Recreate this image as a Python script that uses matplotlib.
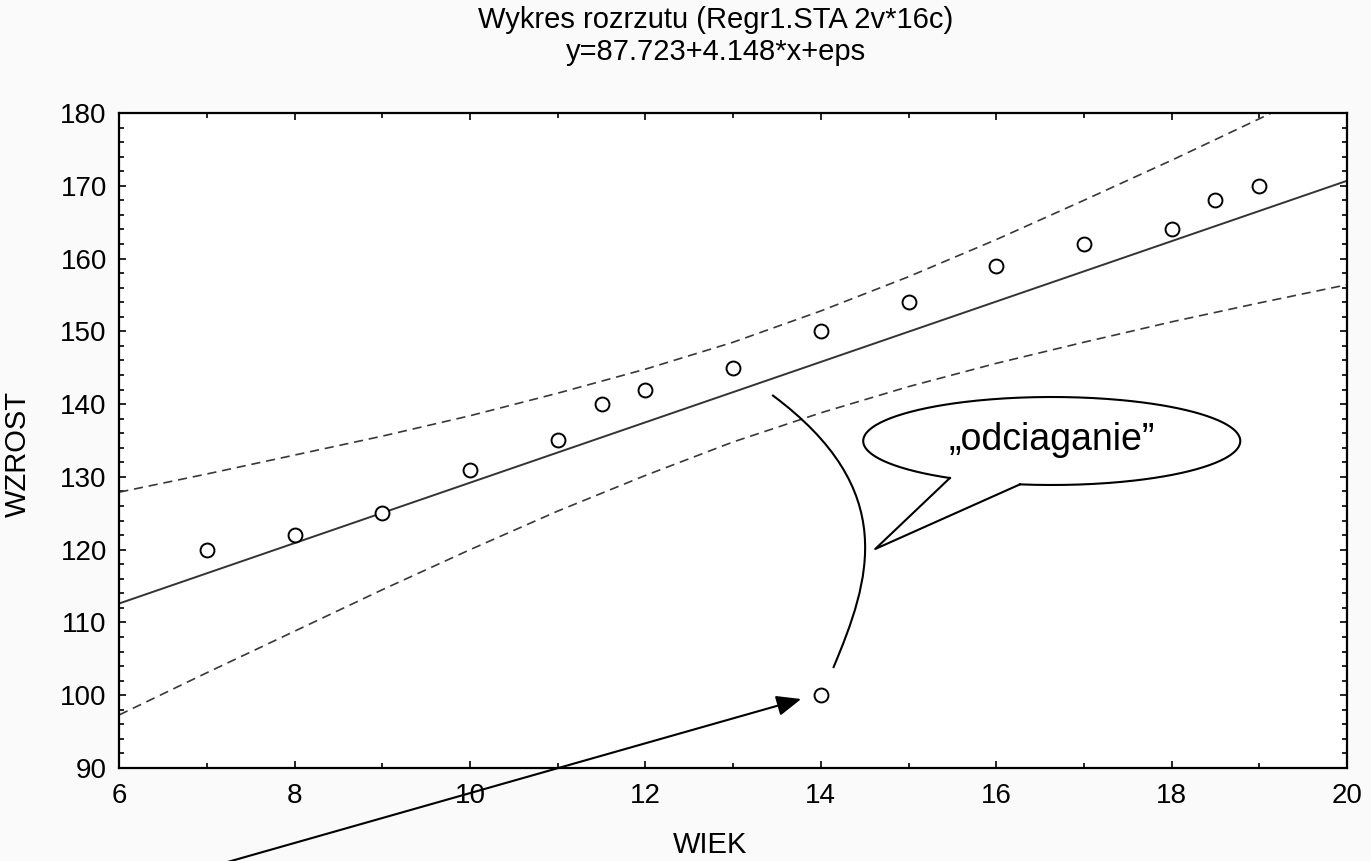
import matplotlib
matplotlib.use('Agg')
import matplotlib.pyplot as plt
import numpy as np
from matplotlib.path import Path
from matplotlib.patches import PathPatch
from matplotlib.ticker import MultipleLocator

plt.rcParams['font.family'] = ['Liberation Sans', 'DejaVu Sans']

# observations: age vs height
wiek = [7, 8, 9, 10, 11, 11.5, 12, 13, 14, 14, 15, 16, 17, 18, 18.5, 19]
wzrost = [120, 122, 125, 131, 135, 140, 142, 145, 150, 100, 154, 159, 162, 164, 168, 170]

# fitted line y = a + b*x
intercept = 87.723
slope = 4.148

# 95% band around the fit
band_x = [6, 7, 8, 9, 10, 11, 12, 13, 14, 15, 16, 17, 18, 19, 20]
band_upper = [127.9, 130.4, 133.0, 135.6, 138.4, 141.5, 144.8, 148.5, 152.8,
              157.5, 162.6, 168.0, 173.5, 179.2, 185.0]
band_lower = [97.3, 103.1, 108.8, 114.5, 120.0, 125.3, 130.2, 134.8, 138.8,
              142.4, 145.6, 148.5, 151.3, 153.9, 156.4]

title_1 = 'Wykres rozrzutu (Regr1.STA 2v*16c)'
title_2 = 'y=87.723+4.148*x+eps'
bubble_text = '\u201eodciaganie\u201d'

fig = plt.figure(figsize=(13.71, 8.61), dpi=100, facecolor='#fafafa')
ax = fig.add_axes([0.087, 0.108, 0.8955, 0.7608])
ax.set_facecolor('white')

# regression line and band
xs = np.array([6, 20])
ax.plot(xs, intercept + slope * xs, color='#333333', lw=1.4, zorder=2)
ax.plot(band_x, band_upper, color='#383838', lw=1.2, dashes=(5.5, 3.5), zorder=2)
ax.plot(band_x, band_lower, color='#383838', lw=1.2, dashes=(5.5, 3.5), zorder=2)

ax.plot(wiek, wzrost, 'o', ms=10, mfc='white', mec='black', mew=1.4,
        zorder=3, clip_on=False)

ax.set_xlim(6, 20)
ax.set_ylim(90, 180)
ax.xaxis.set_major_locator(MultipleLocator(2))
ax.xaxis.set_minor_locator(MultipleLocator(1))
ax.yaxis.set_major_locator(MultipleLocator(10))
ax.yaxis.set_minor_locator(MultipleLocator(2))
ax.tick_params(which='both', direction='in', top=True, right=True,
               width=1.2, color='black')
ax.tick_params(which='major', length=5)
ax.tick_params(which='minor', length=3.5)
ax.tick_params(axis='x', labelsize=20, pad=11)
ax.tick_params(axis='y', labelsize=20, pad=9)
for s in ax.spines.values():
    s.set_linewidth(1.6)
    s.set_color('black')

ax.set_xlabel('WIEK', fontsize=21, va='center')
ax.xaxis.set_label_coords(0.481, -0.1176)
ax.set_ylabel('WZROST', fontsize=21, va='center')
ax.yaxis.set_label_coords(-0.0829, 0.479)

fig.text(0.5222, 0.9768, title_1, fontsize=21, ha='center', va='center')
fig.text(0.5222, 0.9396, title_2, fontsize=21, ha='center', va='center')

# speech bubble: ellipse with a gap where the tail joins
cx, cy, ea, eb = 16.633, 134.93, 2.15, 6.045
t1, t2 = np.deg2rad(237.3), np.deg2rad(260.3)
t = np.linspace(t2, t1 + 2 * np.pi, 300)
ax.plot(cx + ea * np.cos(t), cy + eb * np.sin(t), color='black', lw=1.5, zorder=4)
tip = (14.62, 120.09)
ax.plot([cx + ea * np.cos(t1), tip[0], cx + ea * np.cos(t2)],
        [cy + eb * np.sin(t1), tip[1], cy + eb * np.sin(t2)],
        color='black', lw=1.5, zorder=4)
ax.text(cx, cy + 0.2, bubble_text, fontsize=27, ha='center', va='center', zorder=5)

# curved line pulling the fit towards the outlier
verts = [(13.445, 141.25), (14.905, 128.20), (14.563, 115.83), (14.141, 103.74)]
curve = Path(verts, [Path.MOVETO, Path.CURVE4, Path.CURVE4, Path.CURVE4])
ax.add_patch(PathPatch(curve, facecolor='none', edgecolor='black', lw=1.5, zorder=4))

# arrow pointing at the outlier, coming in from below the chart
ax.annotate('', xy=(13.776, 99.48), xycoords='data',
            xytext=(222 / 1371, -0.003), textcoords='figure fraction',
            arrowprops=dict(arrowstyle='-|>,head_length=0.6,head_width=0.25',
                            color='black', lw=1.5, mutation_scale=25,
                            shrinkA=0, shrinkB=0),
            annotation_clip=False, zorder=6)

fig.savefig('out.png', dpi=100, facecolor=fig.get_facecolor())
